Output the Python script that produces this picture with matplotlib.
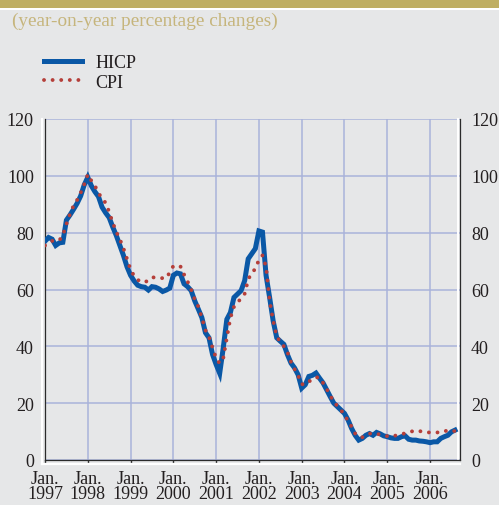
# -*- coding: utf-8 -*-
"""HICP vs CPI, year-on-year percentage changes, monthly 1997-2006."""

import matplotlib

matplotlib.use("Agg")
import matplotlib.pyplot as plt
from matplotlib.lines import Line2D
from matplotlib.patches import Rectangle
import numpy as np


START_YEAR = 1997
YEARS = list(range(1997, 2007))
Y_TICKS = [0, 20, 40, 60, 80, 100, 120]

# monthly values from Jan. 1997 to Aug. 2006
HICP = [
    77.0, 78.3, 77.7, 75.5, 76.4, 76.6, 84.4, 86.2, 88.2, 90.3, 92.9, 96.8,
    99.5, 96.5, 94.4, 92.7, 89.0, 87.0, 85.3, 82.0, 79.0, 75.5, 72.0, 68.0,
    65.0, 63.0, 61.5, 61.0, 60.8, 59.8, 61.0, 60.8, 60.2, 59.3, 59.8, 60.5,
    65.0, 65.8, 65.5, 62.0, 61.0, 59.6, 56.0, 53.1, 50.1, 44.8, 43.0, 37.1,
    33.6, 30.5, 39.5, 49.5, 51.9, 57.2, 58.4, 59.6, 63.1, 70.8, 72.6, 74.4,
    80.6, 80.2, 65.0, 57.2, 48.9, 43.0, 41.8, 40.7, 37.1, 34.1, 32.4, 30.0,
    25.3, 26.5, 29.4, 29.8, 30.6, 28.8, 27.1, 24.7, 22.3, 20.0, 18.8, 17.6,
    16.4, 14.1, 11.1, 8.7, 7.0, 7.6, 8.7, 9.3, 8.7, 9.7, 9.2, 8.5,
    8.2, 7.8, 7.6, 7.6, 8.2, 8.5, 7.3, 7.0, 7.0, 6.7, 6.6, 6.4,
    6.1, 6.4, 6.4, 7.6, 8.2, 8.7, 9.9, 10.5,
]
CPI = [
    75.5, 76.5, 77.1, 77.2, 77.3, 79.0, 83.0, 86.5, 89.5, 91.5, 94.0, 97.0,
    100.5, 98.3, 96.5, 94.0, 92.0, 90.5, 87.3, 83.5, 80.3, 77.7, 74.5, 70.8,
    67.0, 64.8, 63.4, 62.7, 62.5, 63.3, 64.3, 64.2, 64.0, 64.0, 64.0, 66.0,
    68.3, 68.4, 68.1, 65.3, 62.8, 60.0, 56.5, 54.0, 50.0, 45.7, 43.3, 39.5,
    35.8, 34.0, 35.8, 43.0, 50.0, 53.9, 55.3, 57.0, 58.5, 63.5, 66.0, 67.2,
    70.5, 72.0, 68.0, 56.0, 49.0, 43.5, 41.5, 40.0, 38.0, 34.5, 32.0, 29.7,
    26.7, 26.5, 27.5, 28.6, 29.1, 29.0, 27.1, 25.0, 22.7, 20.5, 19.0, 17.6,
    15.8, 13.8, 11.7, 9.3, 8.2, 8.0, 8.8, 9.3, 9.3, 9.3, 8.9, 8.6,
    8.4, 8.2, 8.5, 8.8, 9.1, 9.4, 9.7, 10.1, 10.4, 10.2, 9.9, 9.7,
    9.7, 9.7, 9.7, 9.7, 10.1, 10.4, 10.5, 10.1,
]

BG = "#e6e7e8"
GOLD = "#bfae62"
SUBTITLE_COLOR = "#c6b57c"
BLUE = "#0a58a6"
RED = "#b53f3a"
GRID = "#a9b3da"
TEXT = "#231f20"
FONT = "Liberation Serif"
FS = 13


def main():
    plt.rcParams["font.family"] = FONT
    plt.rcParams["text.color"] = TEXT

    fig = plt.figure(figsize=(4.99, 5.06), dpi=100, facecolor=BG)

    # gold band and white rule on top
    fig.add_artist(Rectangle((0, 497.5 / 506), 1, 8.5 / 506, transform=fig.transFigure,
                             facecolor=GOLD, edgecolor="none"))
    fig.add_artist(Rectangle((0, 495 / 506), 1, 2.2 / 506, transform=fig.transFigure,
                             facecolor="white", edgecolor="none"))
    fig.text(12 / 499, 1 - 21.5 / 506, "(year-on-year percentage changes)",
             color=SUBTITLE_COLOR, fontsize=13.9, va="center", ha="left")

    ax = fig.add_axes([45 / 499, 45 / 506, 415 / 499, 341 / 506])
    ax.set_facecolor(BG)

    x = START_YEAR + np.arange(len(HICP)) / 12.0
    ax.plot(x, HICP, color=BLUE, lw=3.6, label="HICP", zorder=3,
            solid_joinstyle="miter")
    x_cpi = START_YEAR + np.arange(len(CPI)) / 12.0
    ax.plot(x_cpi, CPI, color=RED, lw=2.8, linestyle=(0, (0.01, 2.2)),
            dash_capstyle="round", label="CPI", zorder=4)

    ax.set_xlim(START_YEAR, 2006.70)
    ax.set_ylim(0, 120)
    ax.set_xticks(YEARS)
    ax.set_xticklabels([f"Jan.\n{y}" for y in YEARS], linespacing=0.85)
    ax.set_yticks(Y_TICKS)
    ax.grid(True, color=GRID, lw=1.1)
    ax.set_axisbelow(True)

    ax.tick_params(axis="x", direction="out", length=3, width=1, color="#333333",
                   labelsize=FS, labelcolor=TEXT, pad=4)
    ax.tick_params(axis="y", length=0, labelsize=FS, labelcolor=TEXT, pad=8,
                   right=True, labelright=True)

    ax.spines["top"].set_visible(False)
    for side in ["left", "right", "bottom"]:
        ax.spines[side].set_color("#2b2b2b")
        ax.spines[side].set_linewidth(0.9)

    # white highlight next to the frame
    ax.add_line(Line2D([-0.007, -0.007], [-0.012, 1.0], transform=ax.transAxes,
                       color="white", lw=1.6, clip_on=False, zorder=1))
    ax.add_line(Line2D([-0.007, 1.0], [-0.012, -0.012], transform=ax.transAxes,
                       color="white", lw=1.6, clip_on=False, zorder=1))
    ax.add_line(Line2D([0.996, 0.996], [0.0, 1.0], transform=ax.transAxes,
                       color="white", lw=1.4, clip_on=False, zorder=1))

    fig.legend(loc="upper left", bbox_to_anchor=(44 / 499, 1 - 55.5 / 506),
               frameon=False, fontsize=FS, handlelength=2.1, handletextpad=0.75,
               labelspacing=0.12, borderpad=0, borderaxespad=0)

    fig.savefig("out.png", dpi=100, facecolor=BG)
    plt.close(fig)


if __name__ == "__main__":
    main()
